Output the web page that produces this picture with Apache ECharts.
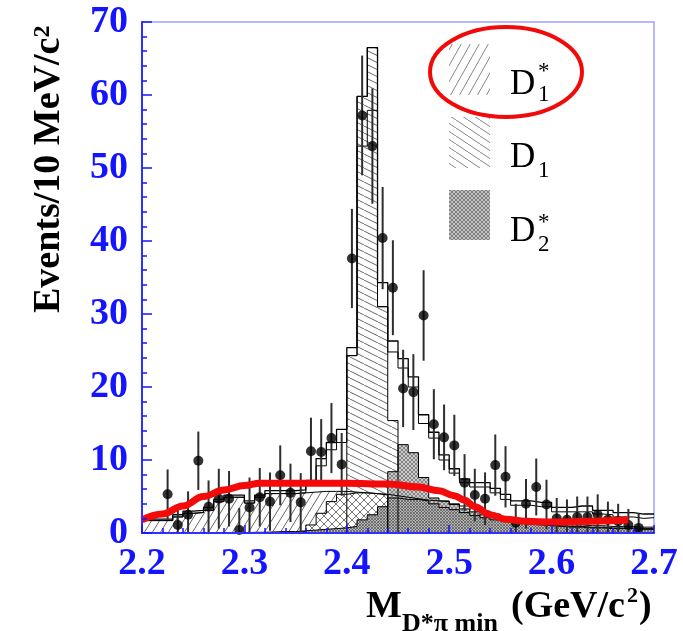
<!DOCTYPE html>
<html>
<head>
<meta charset="utf-8">
<script src="https://cdn.jsdelivr.net/npm/echarts/dist/echarts.min.js"></script>
<style>
  html, body { margin: 0; padding: 0; background: #fff; }
  #main { width: 683px; height: 631px; }
</style>
</head>
<body>
<div id="main"></div>
<script>
// 10 MeV bins from 2.20 to 2.70 GeV
var binStart = 2.20;
var binWidth = 0.01;

// fit histograms, one value per bin
var totalFit = [1.9, 1.9, 1.9, 2.5, 3.0, 3.1, 3.5, 4.6, 5.2, 5.2,
  4.4, 5.2, 5.8, 5.8, 5.8, 5.9, 7.2, 10.2, 12.4, 14.2,
  25.4, 59.8, 66.5, 34.3, 26.3, 23.9, 21.4, 16.2, 13.8, 10.7,
  8.8, 7.4, 6.9, 6.9, 6.1, 5.3, 4.4, 4.4, 4.2, 4.2,
  3.5, 3.5, 3.7, 3.7, 3.1, 3.1, 2.8, 2.8, 2.6, 2.6];
var innerFit = [1.7, 1.7, 1.7, 2.2, 2.7, 2.8, 3.1, 4.3, 4.9, 4.9,
  4.1, 4.9, 5.4, 5.4, 5.4, 5.5, 6.6, 9.2, 11.4, 12.4,
  24.3, 53.0, 57.9, 31.0, 24.8, 22.6, 20.0, 15.0, 13.0, 10.0,
  8.2, 6.9, 6.3, 6.3, 5.5, 4.6, 3.8, 3.8, 3.6, 3.6,
  2.9, 2.9, 2.9, 2.9, 2.6, 2.5, 2.2, 2.2, 2.0, 2.1];
var d1StarHist = [1.7, 1.7, 1.7, 2.2, 2.7, 2.8, 3.1, 4.3, 4.9, 4.9,
  4.1, 4.9, 5.4, 5.4, 5.4, 5.5, 5.6, 5.7, 5.7, 5.7,
  5.6, 5.5, 5.4, 5.3, 5.1, 4.9, 4.7, 4.5, 4.4, 4.3,
  4.0, 3.7, 3.4, 3.0, 2.6, 2.2, 1.9, 1.6, 1.4, 1.3,
  1.2, 1.1, 1.1, 1.0, 1.0, 0.9, 0.9, 0.9, 0.8, 0.8];
var d1Hist = [0, 0, 0, 0, 0, 0, 0, 0, 0, 0,
  0, 0, 0, 0, 0, 0, 0, 0, 0, 0,
  24.3, 59.8, 66.5, 31.0, 15.4, 0, 0, 0, 0, 0,
  0, 0, 0, 0, 0, 0, 0, 0, 0, 0,
  0, 0, 0, 0, 0, 0, 0, 0, 0, 0];
var crossHist = [0, 0, 0, 0, 0, 0, 0, 0, 0, 0,
  0, 0, 0, 0, 0, 0.2, 1.1, 2.7, 4.3, 5.3,
  5.5, 5.5, 5.4, 5.2, 0, 0, 0, 0, 0, 0,
  0, 0, 0, 0, 0, 0, 0, 0, 0, 0,
  0, 0, 0, 0, 0, 0, 0, 0, 0, 0];
var d2StarHist = [0, 0, 0, 0, 0, 0, 0, 0, 0, 0,
  0, 0, 0, 0, 0, 0, 0, 0, 0, 0,
  0, 0, 0, 0, 8.4, 12.1, 11.0, 7.6, 4.8, 4.4,
  3.9, 3.3, 2.9, 2.5, 2.2, 1.9, 1.6, 1.4, 1.2, 1.1,
  1.0, 0.9, 0.9, 0.8, 0.8, 0.7, 0.7, 0.7, 0.6, 0.6];
var bkgHist = [0, 0, 0, 0, 0, 0, 0, 0, 0, 0,
  0.1, 0.1, 0.15, 0.2, 0.2, 0.3, 0.4, 0.5, 0.6, 0.7,
  0.9, 1.8, 2.5, 3.6, 4.8, 4.6, 4.6, 4.4, 4.0, 3.5,
  3.2, 2.8, 2.4, 2.1, 1.8, 1.6, 1.4, 1.2, 1.1, 1.0,
  0.9, 0.8, 0.8, 0.7, 0.7, 0.6, 0.6, 0.6, 0.5, 0.5];

// data points, from the bin centred at 2.225 GeV
var firstPointBin = 2;
var pointVals = [5.3, 1.1, 2.5, 9.9, 3.6, 4.7, 4.7, 0.4, 3.5, 4.9,
  4.3, 7.9, 5.5, 4.2, 11.2, 11.1, 13.0, 9.4, 37.6, 57.2,
  53.0, 40.4, 33.6, 19.8, 19.3, 29.8, 14.9, 13.1, 12.0, 6.9,
  5.2, 4.7, 9.3, 7.7, 1.4, 4.0, 6.3, 3.9, 2.0, 1.8,
  2.2, 2.2, 2.5, 1.8, 1.6, 1.1, 0.7];
var pointErrs = [3.4, 2.4, 3.2, 4.0, 3.6, 4.1, 3.8, 3.0, 4.1, 4.0,
  4.0, 4.1, 4.0, 4.0, 4.6, 4.5, 4.8, 4.3, 6.8, 8.2,
  7.9, 7.0, 6.5, 5.3, 5.2, 6.2, 4.8, 4.5, 4.2, 3.9,
  3.6, 3.6, 4.2, 4.2, 2.6, 3.4, 3.9, 3.4, 2.8, 2.8,
  2.8, 2.8, 2.8, 2.5, 2.4, 2.2, 2.0];

// red curve
var curveX = [2.200, 2.220, 2.240, 2.260, 2.280, 2.300, 2.315, 2.360, 2.400, 2.440,
  2.470, 2.490, 2.505, 2.515, 2.525, 2.540, 2.555, 2.575, 2.600, 2.640, 2.675];
var curveY = [1.8, 2.6, 3.7, 5.0, 5.9, 6.5, 6.8, 6.8, 6.8, 6.7,
  6.3, 5.8, 5.1, 4.5, 3.6, 2.5, 1.9, 1.6, 1.5, 1.6, 1.8];

var serif = '"Liberation Serif", "DejaVu Serif", serif';
var blue = '#1414ff';

function edge(i) {
  return +(binStart + i * binWidth).toFixed(3);
}

// step outline points: left edges plus the closing right edge
function stepData(vals) {
  var pts = vals.map(function (v, i) { return [edge(i), v]; });
  pts.push([edge(vals.length), vals[vals.length - 1]]);
  return pts;
}

function hatch(w, h, dirs, color, lw, bg) {
  var c = document.createElement('canvas');
  c.width = w; c.height = h;
  var ctx = c.getContext('2d');
  ctx.fillStyle = bg;
  ctx.fillRect(0, 0, w, h);
  ctx.strokeStyle = color;
  ctx.lineWidth = lw;
  [-w, 0, w].forEach(function (dx) {
    if (dirs.indexOf('/') >= 0) {
      ctx.beginPath(); ctx.moveTo(dx, h); ctx.lineTo(dx + w, 0); ctx.stroke();
    }
    if (dirs.indexOf('\\') >= 0) {
      ctx.beginPath(); ctx.moveTo(dx, 0); ctx.lineTo(dx + w, h); ctx.stroke();
    }
  });
  return { image: c, repeat: 'repeat' };
}

var patD1Star = hatch(8, 13, '/', '#555', 0.9, '#fff');
var patD1 = hatch(14, 7, '\\', '#555', 0.9, '#fff');
var patCross = hatch(8, 8, '/\\', '#666', 0.9, '#fff');
var patD2Star = hatch(4, 4, '/\\', '#666', 0.7, '#cacaca');
var patBkg = hatch(3, 3, '/\\', '#555', 0.7, '#b4b4b4');
var legD1Star = hatch(9, 16, '/', '#888', 1, '#fff');
var legD1 = hatch(12, 8, '\\', '#888', 1, '#fff');
var legD2Star = hatch(4, 4, '/\\', '#666', 0.7, '#c0c0c0');

function histSeries(name, vals, pattern) {
  return {
    name: name,
    type: 'line',
    step: 'end',
    data: stepData(vals),
    showSymbol: false,
    lineStyle: { color: '#000', width: 1 },
    areaStyle: { color: pattern, opacity: 1 },
    silent: true,
    z: 2
  };
}

function outlineSeries(name, vals, width) {
  return {
    name: name,
    type: 'line',
    step: 'end',
    data: stepData(vals),
    showSymbol: false,
    lineStyle: { color: '#000', width: width },
    silent: true,
    z: 2
  };
}

var pointData = pointVals.map(function (v, i) {
  return [+(binStart + (firstPointBin + i + 0.5) * binWidth).toFixed(4), v];
});
var errData = pointVals.map(function (v, i) {
  return [pointData[i][0], Math.max(0, v - pointErrs[i]), v + pointErrs[i]];
});
var curveData = curveX.map(function (x, i) { return [x, curveY[i]]; });

var chart = echarts.init(document.getElementById('main'));

var option = {
  animation: false,
  backgroundColor: '#fff',
  grid: {
    left: 142, top: 22, width: 512, height: 511,
    show: true, borderColor: '#a0a0ff', borderWidth: 1.5,
    containLabel: false, outerBoundsMode: 'none'
  },
  xAxis: {
    type: 'value', min: 2.2, max: 2.7, interval: 0.1, z: 10,
    axisLine: { show: true, onZero: false, lineStyle: { color: '#3030ff', width: 2 } },
    axisTick: { show: true, inside: true, length: 8, lineStyle: { color: blue, width: 1.5 } },
    minorTick: { show: true, splitNumber: 5, length: 5, lineStyle: { color: blue, width: 1.5 } },
    splitLine: { show: false },
    minorSplitLine: { show: false },
    axisLabel: {
      color: blue, fontSize: 38, fontWeight: 'bold', fontFamily: serif, margin: 12,
      formatter: function (v) { return v.toFixed(1); }
    }
  },
  yAxis: {
    type: 'value', min: 0, max: 70, interval: 10, z: 10,
    axisLine: { show: true, lineStyle: { color: '#3030ff', width: 2 } },
    axisTick: { show: true, inside: true, length: 10, lineStyle: { color: blue, width: 1.5 } },
    minorTick: { show: true, splitNumber: 5, length: 5, lineStyle: { color: blue, width: 1.5 } },
    splitLine: { show: false },
    minorSplitLine: { show: false },
    axisLabel: { color: blue, fontSize: 38, fontWeight: 'bold', fontFamily: serif, margin: 14 }
  },
  series: [
    histSeries('D1*', d1StarHist, patD1Star),
    histSeries('D1', d1Hist, patD1),
    histSeries('other', crossHist, patCross),
    histSeries('D2*', d2StarHist, patD2Star),
    histSeries('background', bkgHist, patBkg),
    outlineSeries('fit (inner)', innerFit, 1),
    outlineSeries('fit', totalFit, 1.3),
    {
      name: 'errors',
      type: 'custom',
      data: errData,
      encode: { x: 0, y: [1, 2] },
      silent: true,
      z: 3,
      renderItem: function (params, api) {
        var p1 = api.coord([api.value(0), api.value(1)]);
        var p2 = api.coord([api.value(0), api.value(2)]);
        return {
          type: 'line',
          shape: { x1: p1[0], y1: p1[1], x2: p2[0], y2: p2[1] },
          style: { stroke: '#2e2e2e', lineWidth: 2 }
        };
      }
    },
    {
      name: 'data',
      type: 'scatter',
      data: pointData,
      symbol: 'circle',
      symbolSize: 10,
      itemStyle: { color: '#000' },
      silent: true,
      z: 4
    },
    {
      name: 'curve',
      type: 'line',
      data: curveData,
      smooth: 0.4,
      smoothMonotone: 'x',
      showSymbol: false,
      lineStyle: { color: '#f50a0a', width: 7 },
      silent: true,
      z: 5
    }
  ],
  graphic: [
    // y axis title
    {
      type: 'text', x: 49.6, y: 313, rotation: Math.PI / 2, z: 20,
      style: {
        text: '{m|Events/10 MeV/c}{s|2}',
        textAlign: 'left', textVerticalAlign: 'middle',
        rich: {
          m: { fontSize: 38, fontWeight: 'bold', fontFamily: serif, fill: '#000', lineHeight: 38, verticalAlign: 'middle' },
          s: { fontSize: 24, fontWeight: 'bold', fontFamily: serif, fill: '#000', lineHeight: 24, verticalAlign: 'top' }
        }
      }
    },
    // x axis title
    {
      type: 'text', x: 366, y: 607.6, z: 20,
      style: { text: 'M', font: 'bold 38px ' + serif, fill: '#000', textAlign: 'left', textVerticalAlign: 'middle' }
    },
    {
      type: 'text', x: 402, y: 624, z: 20,
      style: { text: 'D*\u03c0 min', font: 'bold 26px ' + serif, fill: '#000', textAlign: 'left', textVerticalAlign: 'middle' }
    },
    {
      type: 'text', x: 511, y: 607.6, z: 20,
      style: { text: '(GeV/c', font: 'bold 38px ' + serif, fill: '#000', textAlign: 'left', textVerticalAlign: 'middle' }
    },
    {
      type: 'text', x: 627, y: 596, z: 20,
      style: { text: '2', font: 'bold 22px ' + serif, fill: '#000', textAlign: 'left', textVerticalAlign: 'middle' }
    },
    {
      type: 'text', x: 639, y: 607.6, z: 20,
      style: { text: ')', font: 'bold 38px ' + serif, fill: '#000', textAlign: 'left', textVerticalAlign: 'middle' }
    },
    // legend boxes
    { type: 'rect', z: 20, shape: { x: 449, y: 44, width: 41, height: 51 }, style: { fill: legD1Star } },
    { type: 'rect', z: 20, shape: { x: 449, y: 117, width: 41, height: 51 }, style: { fill: legD1 } },
    { type: 'rect', z: 20, shape: { x: 449, y: 190, width: 41, height: 50 }, style: { fill: legD2Star } },
    // legend labels
    { type: 'text', z: 20, x: 510, y: 84.5, style: { text: 'D', font: '35px ' + serif, fill: '#000', textVerticalAlign: 'middle' } },
    { type: 'text', z: 20, x: 538, y: 95, style: { text: '1', font: '23px ' + serif, fill: '#000', textVerticalAlign: 'middle' } },
    { type: 'text', z: 20, x: 538, y: 71.6, style: { text: '*', font: '23px ' + serif, fill: '#000', textVerticalAlign: 'middle' } },
    { type: 'text', z: 20, x: 510, y: 157.5, style: { text: 'D', font: '35px ' + serif, fill: '#000', textVerticalAlign: 'middle' } },
    { type: 'text', z: 20, x: 538, y: 171, style: { text: '1', font: '23px ' + serif, fill: '#000', textVerticalAlign: 'middle' } },
    { type: 'text', z: 20, x: 510, y: 231.5, style: { text: 'D', font: '35px ' + serif, fill: '#000', textVerticalAlign: 'middle' } },
    { type: 'text', z: 20, x: 538, y: 245, style: { text: '2', font: '23px ' + serif, fill: '#000', textVerticalAlign: 'middle' } },
    { type: 'text', z: 20, x: 538, y: 222.6, style: { text: '*', font: '23px ' + serif, fill: '#000', textVerticalAlign: 'middle' } },
    // red ellipse around the D1* entry
    { type: 'ellipse', z: 21, shape: { cx: 506, cy: 72, rx: 76, ry: 45 }, style: { fill: null, stroke: '#f00a0a', lineWidth: 4 } }
  ]
};

chart.setOption(option);
</script>
</body>
</html>
